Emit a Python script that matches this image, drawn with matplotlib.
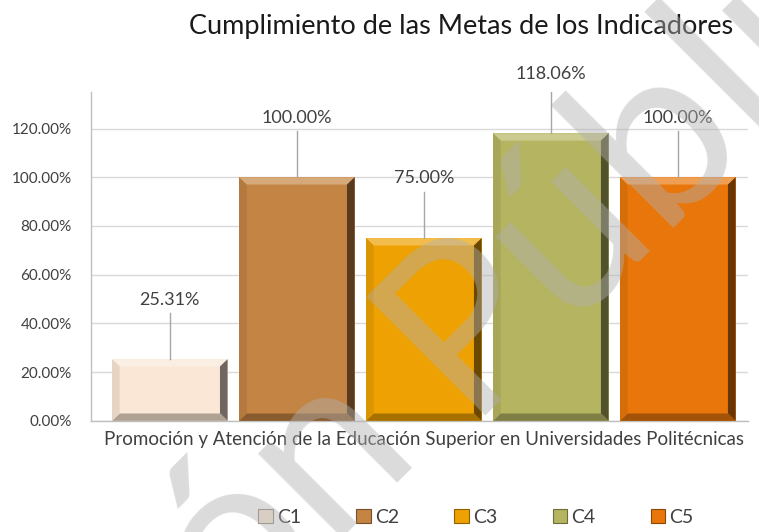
import matplotlib

matplotlib.use("Agg")
import matplotlib.pyplot as plt
from matplotlib.patches import Polygon
from matplotlib.ticker import FuncFormatter
import numpy as np

plt.rcParams["font.family"] = ["Lato", "DejaVu Sans"]

TITLE = "Cumplimiento de las Metas de los Indicadores"
CATEGORY = "Promoción y Atención de la Educación Superior en Universidades Politécnicas"
SERIES = ["C1", "C2", "C3", "C4", "C5"]
VALUES = [0.2531, 1.0000, 0.7500, 1.1806, 1.0000]
COLORS = ["#fae7d5", "#c48443", "#eea102", "#b5b461", "#e8760a"]
YTICKS = [0.0, 0.2, 0.4, 0.6, 0.8, 1.0, 1.2]
WATERMARK = ("Versión", "Pública")
C_GRID, C_AXIS, C_TEXT = "#d9d9d9", "#bfbfbf", "#404040"


def shade(hex_color, f):
    c = np.array(matplotlib.colors.to_rgb(hex_color))
    if f < 0:
        c = c * (1 + f)
    else:
        c = c + (1 - c) * f
    return np.clip(c, 0, 1)


def bevel(ax, x0, x1, top, color, dx=0.06, dy=0.03):
    # light top strip, dark right/bottom strips, mid-tone left
    faces = [
        ([(x0, top), (x1, top), (x1 - dx, top - dy), (x0 + dx, top - dy)], 0.3),
        ([(x1, top), (x1, 0), (x1 - dx, dy), (x1 - dx, top - dy)], -0.55),
        ([(x0, 0), (x1, 0), (x1 - dx, dy), (x0 + dx, dy)], -0.3),
        ([(x0, 0), (x0, top), (x0 + dx, top - dy), (x0 + dx, dy)], -0.08),
    ]
    for pts, f in faces:
        ax.add_patch(Polygon(pts, closed=True, facecolor=shade(color, f),
                             edgecolor="none", zorder=3))


fig = plt.figure(figsize=(7.59, 5.32), dpi=100)
ax = fig.add_axes([0.12, 0.209, 0.865, 0.618])

x = np.arange(len(SERIES))
width = 0.91
ax.bar(x, VALUES, width=width, color=COLORS, zorder=2)
for xi, v, c in zip(x, VALUES, COLORS):
    bevel(ax, xi - width / 2, xi + width / 2, v, c)
    # label with leader line
    ax.plot([xi, xi], [v, v + 0.19], color="#a6a6a6", lw=1.0, zorder=4)
    ax.text(xi, v + 0.245, f"{v * 100:.2f}%", ha="center", va="center",
            fontsize=13, color=C_TEXT, zorder=5)

ax.set_xlim(-0.62, 4.55)
ax.set_ylim(0, 1.35)
ax.set_yticks(YTICKS)
ax.yaxis.set_major_formatter(FuncFormatter(lambda v, _: f"{v * 100:.2f}%"))
ax.tick_params(axis="y", length=0, labelsize=11, colors=C_TEXT, pad=14)
ax.set_xticks([2])
ax.set_xticklabels([CATEGORY], fontsize=13.5, color=C_TEXT)
ax.tick_params(axis="x", length=0, pad=7)
ax.grid(True, axis="y", color=C_GRID, lw=1.0, zorder=0)
ax.set_axisbelow(True)
for s in ("top", "right"):
    ax.spines[s].set_visible(False)
for s in ("left", "bottom"):
    ax.spines[s].set_color(C_AXIS)
    ax.spines[s].set_linewidth(1.0)

fig.text(0.608, 0.95, TITLE, ha="center", va="center", fontsize=19.5,
         color="#1a1a1a")

handles = [plt.Rectangle((0, 0), 1, 1, facecolor=c, edgecolor=shade(c, -0.4), lw=0.8)
           for c in COLORS]
fig.legend(handles, SERIES, loc="center", bbox_to_anchor=(0.627, 0.028), ncol=5,
           frameon=False, fontsize=14, handlelength=0.75, handleheight=0.75,
           handletextpad=0.2, columnspacing=2.85, labelcolor=C_TEXT)

# diagonal watermark, two words sharing one 45-degree baseline
wm = dict(rotation=45, rotation_mode="anchor", va="baseline", fontsize=169,
          color="#b0b0b0", alpha=0.45, zorder=10)
fig.text(0.5586, 0.1429, WATERMARK[0], ha="right", **wm)
fig.text(0.611, 0.218, WATERMARK[1], ha="left", **wm)

fig.savefig("out.png", dpi=100, facecolor="white")
